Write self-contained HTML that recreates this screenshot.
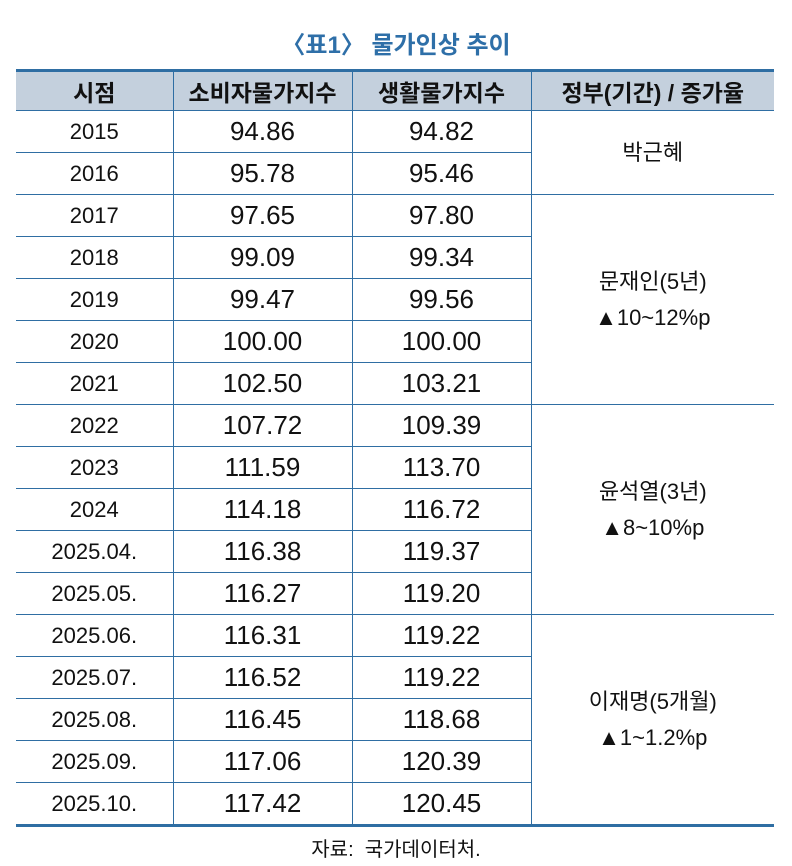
<!DOCTYPE html>
<html><head><meta charset="utf-8"><style>
body{margin:0;background:#fff;width:792px;height:866px;position:relative;font-family:"Liberation Sans","Noto Sans CJK KR",sans-serif;color:#111}
.title{position:absolute;left:0;width:792px;top:25px;text-align:center;font-size:24px;font-weight:bold;color:#2e6fa8}
table{position:absolute;left:16px;top:69px;border-collapse:collapse;width:758px;table-layout:fixed}
td,th{border:1px solid #2f6ea3;text-align:center;padding:0;height:41px}
tr:first-child th{border-top:3px solid #2f6ea3;background:#c4d0dd;font-size:23px;height:38px}
th:first-child,td:first-child{border-left:none}
th:last-child,td:last-child{border-right:none}
tr:last-child td,td.last{border-bottom:3px solid #2f6ea3}
td.y{font-size:22px}
td.v{font-size:26px}
td.g{font-size:22px;line-height:36px}
.src{position:absolute;top:833px;left:0;width:792px;text-align:center;font-size:20px}
</style></head><body>
<div class="title">〈표1〉 물가인상 추이</div>
<table>
<colgroup><col style="width:157px"><col style="width:179px"><col style="width:179px"><col style="width:243px"></colgroup>
<tr><th>시점</th><th>소비자물가지수</th><th>생활물가지수</th><th>정부(기간) / 증가율</th></tr>
<tr><td class="y">2015</td><td class="v">94.86</td><td class="v">94.82</td><td class="g" rowspan="2">박근혜</td></tr>
<tr><td class="y">2016</td><td class="v">95.78</td><td class="v">95.46</td></tr>
<tr><td class="y">2017</td><td class="v">97.65</td><td class="v">97.80</td><td class="g" rowspan="5">문재인(5년)<br>▲10~12%p</td></tr>
<tr><td class="y">2018</td><td class="v">99.09</td><td class="v">99.34</td></tr>
<tr><td class="y">2019</td><td class="v">99.47</td><td class="v">99.56</td></tr>
<tr><td class="y">2020</td><td class="v">100.00</td><td class="v">100.00</td></tr>
<tr><td class="y">2021</td><td class="v">102.50</td><td class="v">103.21</td></tr>
<tr><td class="y">2022</td><td class="v">107.72</td><td class="v">109.39</td><td class="g" rowspan="5">윤석열(3년)<br>▲8~10%p</td></tr>
<tr><td class="y">2023</td><td class="v">111.59</td><td class="v">113.70</td></tr>
<tr><td class="y">2024</td><td class="v">114.18</td><td class="v">116.72</td></tr>
<tr><td class="y">2025.04.</td><td class="v">116.38</td><td class="v">119.37</td></tr>
<tr><td class="y">2025.05.</td><td class="v">116.27</td><td class="v">119.20</td></tr>
<tr><td class="y">2025.06.</td><td class="v">116.31</td><td class="v">119.22</td><td class="g last" rowspan="5">이재명(5개월)<br>▲1~1.2%p</td></tr>
<tr><td class="y">2025.07.</td><td class="v">116.52</td><td class="v">119.22</td></tr>
<tr><td class="y">2025.08.</td><td class="v">116.45</td><td class="v">118.68</td></tr>
<tr><td class="y">2025.09.</td><td class="v">117.06</td><td class="v">120.39</td></tr>
<tr><td class="y">2025.10.</td><td class="v">117.42</td><td class="v">120.45</td></tr>
</table>
<div class="src">자료:&nbsp; 국가데이터처.</div>
</body></html>
